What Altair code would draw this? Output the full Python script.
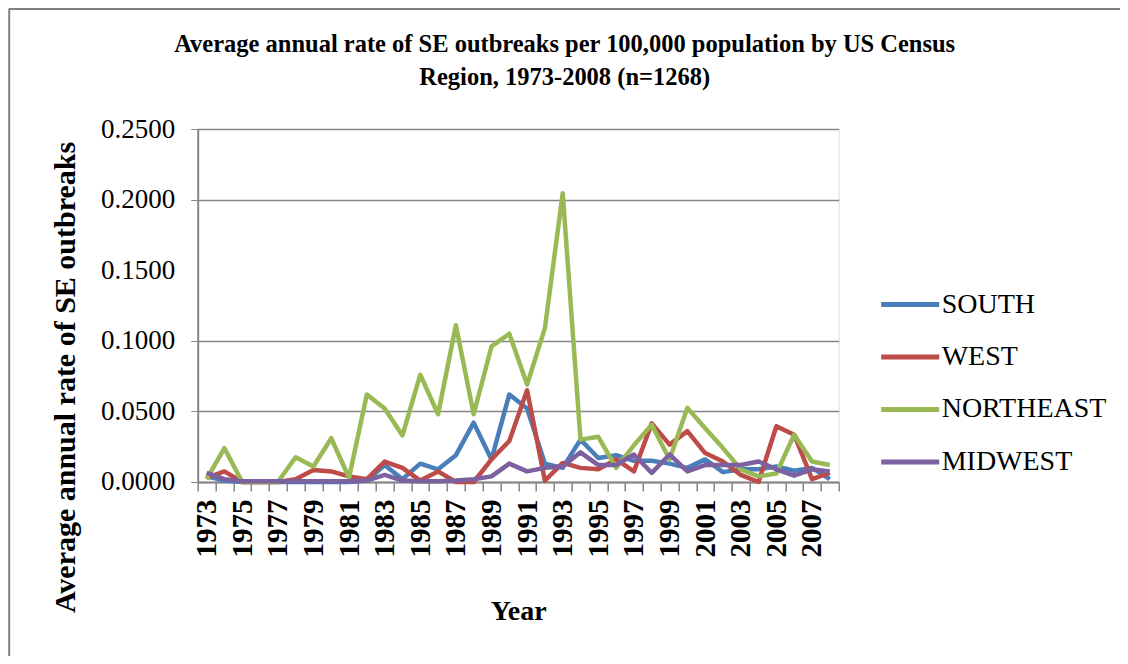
import altair as alt
import pandas as pd

years = [str(y) for y in range(1973, 2009)]
regions = ["SOUTH", "WEST", "NORTHEAST", "MIDWEST"]
colors = ["#4A7EBB", "#BE4B48", "#98B954", "#7D60A0"]

south = [0.004, 0.001, 0.0, 0.0, 0.0, 0.0, 0.0, 0.0, 0.0, 0.001,
         0.012, 0.002, 0.013, 0.009, 0.019, 0.042, 0.016, 0.062, 0.052, 0.013,
         0.010, 0.030, 0.017, 0.019, 0.015, 0.015, 0.013, 0.010, 0.016, 0.007,
         0.009, 0.009, 0.011, 0.008, 0.010, 0.002]
west = [0.003, 0.0075, 0.0, 0.0, 0.0, 0.002, 0.0085, 0.0075, 0.004, 0.002,
        0.0145, 0.010, 0.001, 0.0075, 0.0, 0.0, 0.016, 0.029, 0.065, 0.001,
        0.0135, 0.010, 0.009, 0.016, 0.0075, 0.0415, 0.0265, 0.036, 0.0205, 0.0145,
        0.005, 0.0, 0.0395, 0.0335, 0.002, 0.0065]
northeast = [0.002, 0.024, 0.0, 0.0, 0.0, 0.0175, 0.011, 0.031, 0.003, 0.062,
             0.052, 0.033, 0.076, 0.048, 0.111, 0.048, 0.096, 0.105, 0.069, 0.109,
             0.2045, 0.030, 0.032, 0.010, 0.026, 0.0405, 0.016, 0.0525, 0.038, 0.024,
             0.009, 0.004, 0.006, 0.0335, 0.0145, 0.012]
midwest = [0.0065, 0.002, 0.0005, 0.0005, 0.0005, 0.0005, 0.0005, 0.0005, 0.0005, 0.001,
           0.005, 0.001, 0.0005, 0.0005, 0.001, 0.002, 0.004, 0.013, 0.0075, 0.010,
           0.011, 0.021, 0.012, 0.012, 0.0195, 0.0065, 0.0195, 0.0075, 0.012, 0.012,
           0.012, 0.0145, 0.009, 0.0045, 0.009, 0.0075]

y_ticks = [0.0, 0.05, 0.10, 0.15, 0.20, 0.25]
title_text = "Average annual rate of SE outbreaks per 100,000 population by US Census\nRegion, 1973-2008 (n=1268)"

series = {"SOUTH": south, "WEST": west, "NORTHEAST": northeast, "MIDWEST": midwest}
rows = []
for k, name in enumerate(regions):
    for yr, v in zip(years, series[name]):
        rows.append({"Year": yr, "Region": name, "Rate": v, "order": k})
df = pd.DataFrame(rows)

SERIF = "Liberation Serif"
GRAY = "#868686"
HIDE015 = "abs(datum.value - 0.15) < 1e-6"

lines = alt.Chart(df).mark_line(strokeWidth=4.5, strokeJoin="round").encode(
    x=alt.X("Year:O", bandPosition=0.5,
            scale=alt.Scale(type="band", paddingInner=0, paddingOuter=0),
            axis=alt.Axis(title="Year", titleFont=SERIF, titleFontSize=28, titleFontWeight="bold",
                          titleY=130, titleBaseline="middle", titleColor="black",
                          labelFont=SERIF, labelFontSize=29, labelFontWeight="bold",
                          labelAngle=270, labelPadding=8, labelOverlap=False,
                          labelExpr="toNumber(datum.value) % 2 == 1 ? datum.value : ''",
                          tickBand="extent", tickSize=9, tickColor=GRAY, tickWidth=1.5,
                          domainColor=GRAY, domainWidth=2, grid=False, labelColor="black")),
    y=alt.Y("Rate:Q", scale=alt.Scale(domain=[0, 0.25], nice=False),
            axis=alt.Axis(title="Average annual rate of SE outbreaks", values=y_ticks, format=".4f",
                          titleFont=SERIF, titleFontSize=30, titleFontWeight="bold",
                          titleAngle=270, titleX=-132, titleY=248, titleAlign="center",
                          titleBaseline="middle", titleColor="black",
                          labelFont=SERIF, labelFontSize=27, labelPadding=16, labelColor="black",
                          tickSize=7, domainColor=GRAY, domainWidth=2,
                          tickColor={"condition": {"test": HIDE015, "value": "transparent"}, "value": GRAY},
                          gridColor={"condition": {"test": HIDE015, "value": "transparent"}, "value": GRAY},
                          gridWidth=1.5)),
    color=alt.Color("Region:N", scale=alt.Scale(domain=regions, range=colors),
                    legend=alt.Legend(title=None, orient="none", legendX=681, legendY=144,
                                      symbolType="stroke", symbolSize=3364, symbolStrokeWidth=5,
                                      labelFont=SERIF, labelFontSize=28, labelOffset=0,
                                      labelLimit=0, rowPadding=6.5, labelColor="black")),
    order=alt.Order("order:Q"),
)

frame = alt.Data(values=[{}])
top_rule = alt.Chart(frame).mark_rule(color="#808080", strokeWidth=2).encode(
    x=alt.value(-189), x2=alt.value(935), y=alt.value(-120))
left_rule = alt.Chart(frame).mark_rule(color="#808080", strokeWidth=2).encode(
    x=alt.value(-188.5), y=alt.value(-120), y2=alt.value(540))

title = alt.Chart(frame).mark_text(
    text=title_text, lineBreak="\n", lineHeight=33, font=SERIF, fontSize=24.5,
    fontWeight="bold", align="center", baseline="top", color="black").encode(
    x=alt.value(367), y=alt.value(-96))

chart = alt.layer(lines, top_rule, left_rule, title).properties(
    width=641, height=353,
    autosize=alt.AutoSizeParams(type="none"),
    padding={"left": 189.7, "top": 121, "right": 281, "bottom": 174},
).configure_view(stroke=None).configure(background="white")

chart.save("out.html", embed_options={"renderer": "svg", "actions": False})
